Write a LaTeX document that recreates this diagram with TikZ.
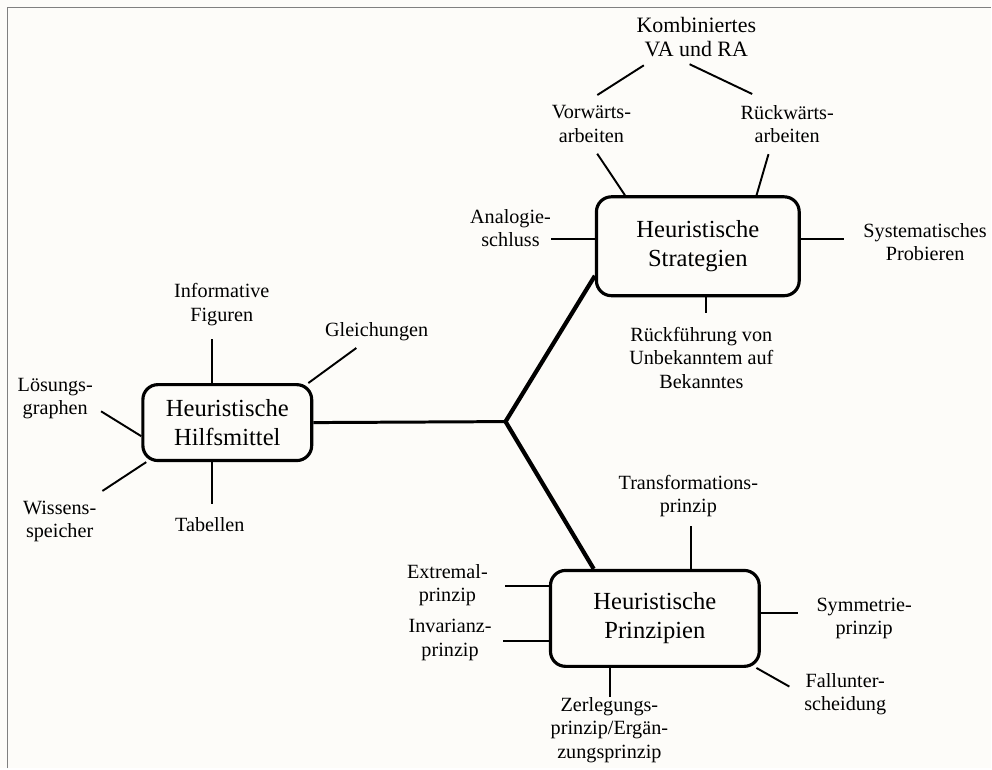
\documentclass[tikz,border=0pt]{standalone}
\usepackage{fontspec}
\setmainfont{Liberation Serif}
\definecolor{papier}{RGB}{253,252,249}
\definecolor{rahmen}{RGB}{128,128,128}

\begin{document}
\begin{tikzpicture}[x=0.02cm,y=-0.02cm,
  kasten/.style={draw,line width=1.8pt,rounded corners=0.3cm,inner sep=0pt,align=center,
    font=\fontsize{14}{16.5}\selectfont},
  stich/.style={inner sep=0pt,align=center,font=\fontsize{11.5}{13.3}\selectfont},
  ast/.style={line width=1.1pt},
  zweig/.style={line width=2.4pt}]

% Hintergrund und Rahmen
\fill[papier] (0,0) rectangle (992,769);
\draw[rahmen,line width=1.1pt] (7.5,769) -- (7.5,7.5) -- (992,7.5);
\useasboundingbox (0,0) rectangle (992,769);

% Hauptkaesten
\node[kasten,minimum width=4.06cm,minimum height=1.98cm] (str) at (698.5,246.5) {Heuristische\\Strategien};
\node[kasten,minimum width=3.38cm,minimum height=1.52cm] (hm) at (227.5,423) {Heuristische\\Hilfsmittel};
\node[kasten,minimum width=4.18cm,minimum height=1.92cm] (pri) at (655.5,619) {Heuristische\\Prinzipien};
\coordinate (j) at (506,422);

% Verzweigung
\draw[line width=1.7pt] (hm.east) -- (j);
\draw[zweig] (str.196) -- (j) -- (pri.141);

% Strategien
\node[stich,font=\fontsize{12.5}{14}\selectfont] (kom) at (697,37) {Kombiniertes\\VA und RA};
\node[stich] (vor) at (592,124) {Vorwärts-\\arbeiten};
\node[stich] (rue) at (788,124) {Rückwärts-\\arbeiten};
\node[stich] (ana) at (511,228) {Analogie-\\schluss};
\node[stich] (sys) at (926,242.5) {Systematisches\\Probieren};
\node[stich] (rf) at (702,358) {Rückführung von\\Unbekanntem auf\\Bekanntes};
\draw[ast,shorten <=8.4pt,shorten >=10.7pt] (kom.207) -- (vor.118);
\draw[ast,shorten <=9.1pt,shorten >=14.3pt] (kom.224) -- (rue.123);
\draw[ast,shorten >=7.6pt] (str.145) -- (vor.265);
\draw[ast,shorten >=6.6pt] (str.41) -- (rue.231);
\draw[ast] (str.176) -- (str.176 -| ana.east);
\draw[ast,shorten >=10.8pt] (str.4) -- (str.4 -| sys.west);
\draw[ast,shorten >=8pt] (str.-81) -- (str.-81 |- rf.north);

% Hilfsmittel
\node[stich] (inf) at (222,304.75) {Informative\\Figuren};
\node[stich] (gle) at (377,332.25) {Gleichungen};
\node[stich] (loe) at (55.3,398.75) {Lösungs-\\graphen};
\node[stich] (wis) at (59.7,522.25) {Wissens-\\speicher};
\node[stich] (tab) at (210,525) {Tabellen};
\draw[ast,shorten >=7.7pt] (hm.111) -- (hm.111 |- inf.south);
\draw[ast,shorten >=6.3pt] (hm.26) -- (gle.220);
\draw[ast,shorten >=5.3pt] (hm.189) -- (loe.-12);
\draw[ast,shorten >=10.3pt] (hm.206) -- (wis.37);
\draw[ast,shorten >=7.4pt] (hm.249) -- (hm.249 |- tab.north);

% Prinzipien
\node[stich] (tra) at (689,496.75) {Transformations-\\prinzip};
\node[stich] (ext) at (447.8,585.75) {Extremal-\\prinzip};
\node[stich] (inv) at (450.5,640.75) {Invarianz-\\prinzip};
\node[stich] (sym) at (865,618.75) {Symmetrie-\\prinzip};
\node[stich] (fal) at (846,694.75) {Fallunter-\\scheidung};
\node[stich] (zer) at (610,730.75) {Zerlegungs-\\prinzip/Ergän-\\zungsprinzip};
\draw[ast,shorten >=4.8pt] (pri.54) -- (pri.54 |- tra.south);
\draw[ast,shorten >=9.6pt] (pri.163) -- (pri.163 -| ext.east);
\draw[ast,shorten >=6.5pt] (pri.192) -- (pri.192 -| inv.east);
\draw[ast,shorten >=10.2pt] (pri.3) -- (pri.3 -| sym.west);
\draw[ast,shorten >=9.5pt] (pri.-26) -- (fal.181);
\draw[ast] (pri.228) -- (pri.228 |- zer.north);

\end{tikzpicture}
\end{document}
